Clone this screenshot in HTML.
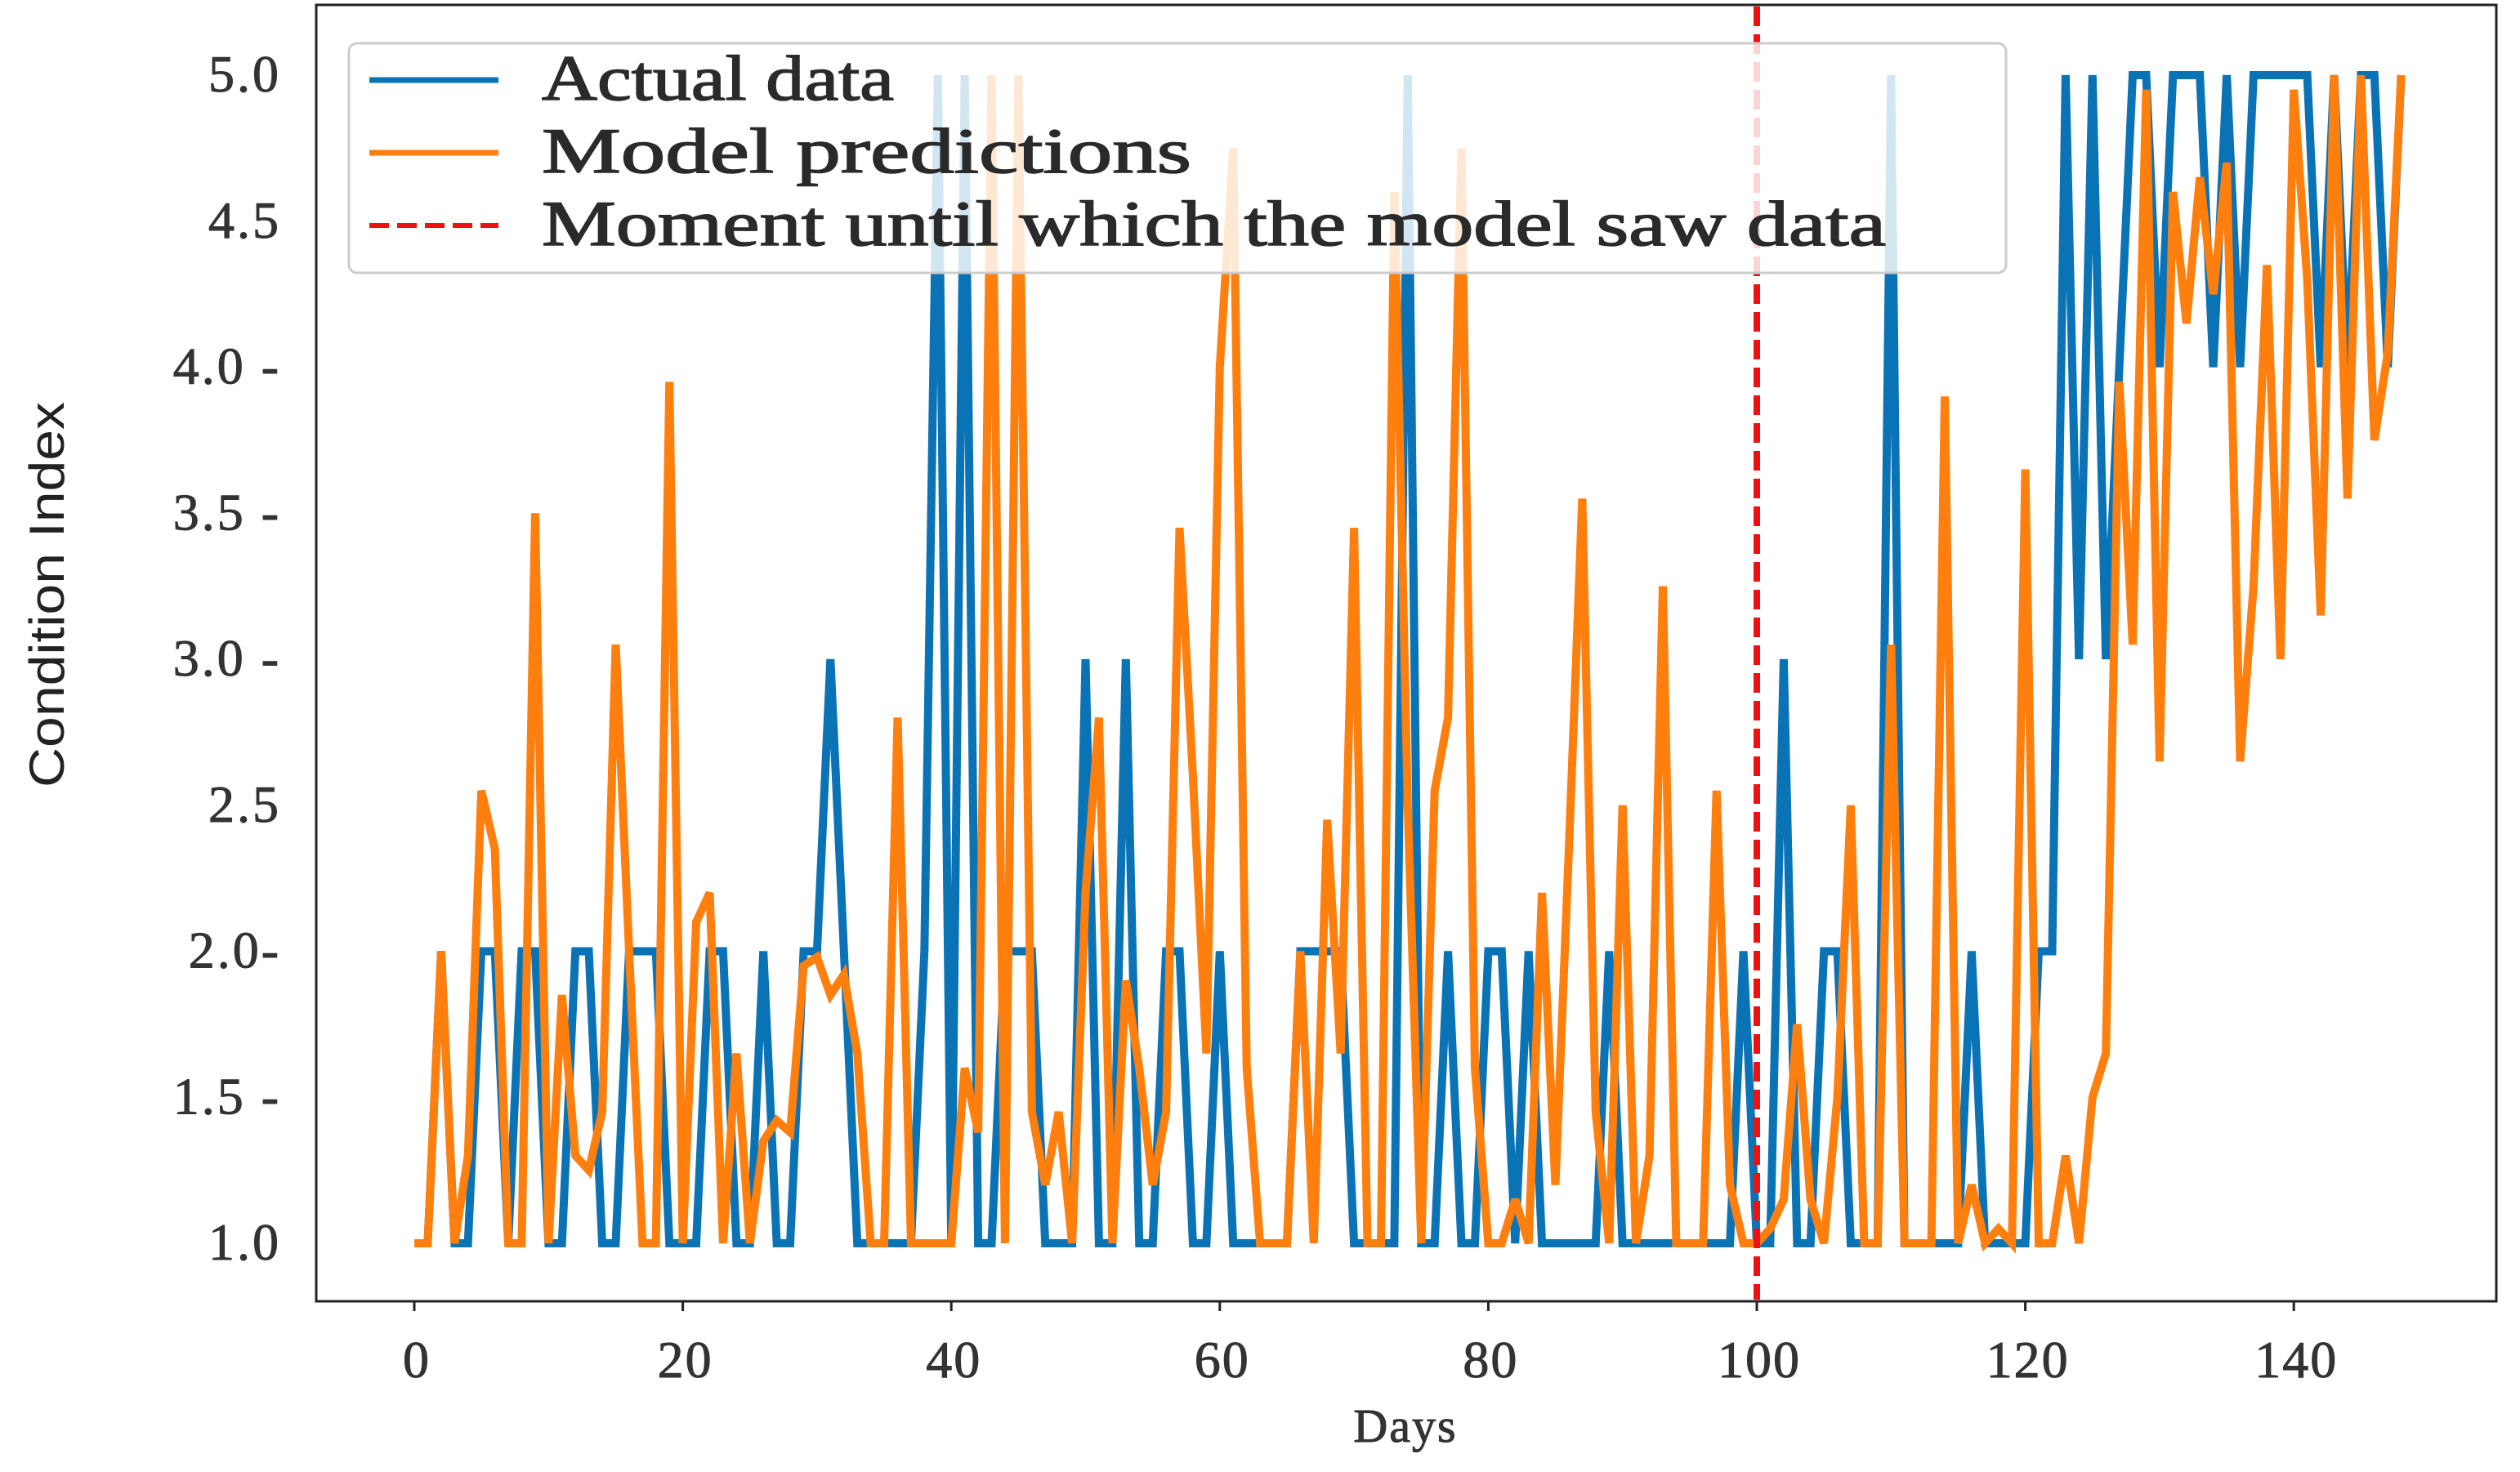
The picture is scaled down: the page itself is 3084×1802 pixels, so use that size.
<!DOCTYPE html>
<html><head><meta charset="utf-8"><style>
html,body{margin:0;padding:0;background:#fff;}
svg{display:block;}
</style></head><body>
<svg id="chart" width="3084" height="1802" viewBox="0 0 3084 1802" xmlns="http://www.w3.org/2000/svg">
<rect x="0" y="0" width="3084" height="1802" fill="#fff"/>
<g id="plot"></g>
</svg>
<script>
const actualData=[1,1,2,1,1,2,2,1,2,2,1,1,2,2,1,1,2,2,2,1,1,1,2,2,1,1,2,1,1,2,2,3,2,1,1,1,1,1,2,5,1,5,1,1,2,2,2,1,1,1,3,1,1,3,1,1,2,2,1,1,2,1,1,1,1,1,2,2,2,2,1,1,1,1,5,1,1,2,1,1,2,2,1,2,1,1,1,1,1,2,1,1,1,1,1,1,1,1,1,2,1,1,3,1,1,2,2,1,1,1,5,1,1,1,1,1,2,1,1,1,1,2,2,5,3,5,3,4,5,5,4,5,5,5,4,5,4,5,5,5,5,5,4,5,4,5,5,4,5];
const predictions=[1,1,2,1,1.3,2.55,2.35,1,1,3.5,1,1.85,1.3,1.25,1.45,3.05,2,1,1,3.95,1,2.1,2.2,1,1.65,1,1.35,1.42,1.38,1.95,1.98,1.85,1.92,1.65,1,1,2.8,1,1,1,1,1.6,1.38,5,1,5,1.45,1.2,1.45,1,2.2,2.8,1,1.9,1.6,1.2,1.45,3.45,2.6,1.65,4.0,4.75,1.6,1,1,1,2.0,1,2.45,1.65,3.45,1,1,4.6,2.5,1,2.55,2.8,4.75,1.6,1,1,1.15,1,2.2,1.2,2.35,3.55,1.45,1,2.5,1,1.3,3.25,1,1,1,2.55,1.2,1,1,1.05,1.15,1.75,1.15,1,1.5,2.5,1,1,3.05,1,1,1,3.9,1,1.2,1,1.05,1,3.65,1,1,1.3,1,1.5,1.65,3.95,3.05,4.95,2.65,4.6,4.15,4.65,4.25,4.7,2.65,3.25,4.35,3.0,4.95,4.3,3.15,5,3.55,5,3.75,4.05,5];
const cutoffDay=[100];
const xTicks=[0,20,40,60,80,100,120,140];
const xTickLabels=["0","20","40","60","80","100","120","140"];
const yTicks=[1.0,1.5,2.0,2.5,3.0,3.5,4.0,4.5,5.0];
const yTickLabels=["1.0","1.5 -","2.0-","2.5","3.0 -","3.5 -","4.0 -","4.5","5.0"];

const NS="http://www.w3.org/2000/svg";
const g=document.getElementById('plot');
const X0=507,X100=2150;
function xs(d){return X0+(X100-X0)*d/100;}
function ys(v){return 1522-(v-1)*(1522-92)/4;}
function mk(tag,attrs,parent){const e=document.createElementNS(NS,tag);for(const k in attrs)e.setAttribute(k,attrs[k]);(parent||g).appendChild(e);return e;}

const frame=mk('rect',{x:387,y:6,width:2668,height:1587,fill:'none',stroke:'#222','stroke-width':3});



yTicks.forEach((v,i)=>{
  const t=mk('text',{x:344,y:ys(v)+20,'text-anchor':'end','font-family':'Liberation Serif, serif','font-size':64,'letter-spacing':3,fill:'#333',stroke:'#333','stroke-width':1});
  t.textContent=yTickLabels[i];
  
  
});
xTicks.forEach((v,i)=>{
  const tk=mk('line',{x1:xs(v),x2:xs(v),y1:1593,y2:1605,stroke:'#222','stroke-width':3});
  
  
  const t=mk('text',{x:xs(v)+3,y:1686,'text-anchor':'middle','font-family':'Liberation Serif, serif','font-size':64,'letter-spacing':2,fill:'#333',stroke:'#333','stroke-width':1});
  t.textContent=xTickLabels[i];
  
  
});
const xt=mk('text',{x:1720,y:1765,'text-anchor':'middle','font-family':'Liberation Serif, serif','font-size':58,'letter-spacing':2,fill:'#333',stroke:'#333','stroke-width':1});
xt.textContent='Days';


const yt=mk('text',{x:0,y:0,'text-anchor':'middle','font-family':'Liberation Sans, sans-serif','font-size':60,fill:'#222',textLength:472,lengthAdjust:'spacingAndGlyphs',transform:'translate(78,728) rotate(-90)'});
yt.textContent='Condition Index';



function pts(arr){return arr.map((v,i)=>xs(i).toFixed(1)+','+ys(v).toFixed(1)).join(' ');}
const la=mk('polyline',{points:pts(actualData),fill:'none',stroke:'#0a73b5','stroke-width':10,'stroke-linejoin':'miter','stroke-miterlimit':3});


const lp=mk('polyline',{points:pts(predictions),fill:'none',stroke:'#ff7f0e','stroke-width':10,'stroke-linejoin':'miter','stroke-miterlimit':3});


const cl=mk('line',{x1:xs(cutoffDay[0]),x2:xs(cutoffDay[0]),y1:8,y2:1591,stroke:'#ee1111','stroke-width':8,'stroke-dasharray':'24,10'});



const lg=mk('g',{});


mk('rect',{x:427,y:53,width:2028,height:281,rx:10,fill:'#fff','fill-opacity':0.82,stroke:'#ccc','stroke-width':3},lg);
const entries=[['Actual data','#0a73b5',null,'legend-actual',431],['Model predictions','#ff7f0e',null,'legend-predictions',795],['Moment until which the model saw data','#ee1111','24,10','legend-cutoff',1645]];
entries.forEach((e,i)=>{
  const y=98+i*89;
  const ln=mk('line',{x1:452,x2:610,y1:y,y2:y,stroke:e[1],'stroke-width':e[2]?6:7},lg);
  if(e[2])ln.setAttribute('stroke-dasharray',e[2]);
  
  
  const t=mk('text',{x:663,y:y+24,'font-family':'Liberation Serif, serif','font-size':78,fill:'#2a2a2a',stroke:'#2a2a2a','stroke-width':1.5,textLength:e[4],lengthAdjust:'spacingAndGlyphs'},lg);
  t.textContent=e[0];
  
  
});
</script>
</body></html>
